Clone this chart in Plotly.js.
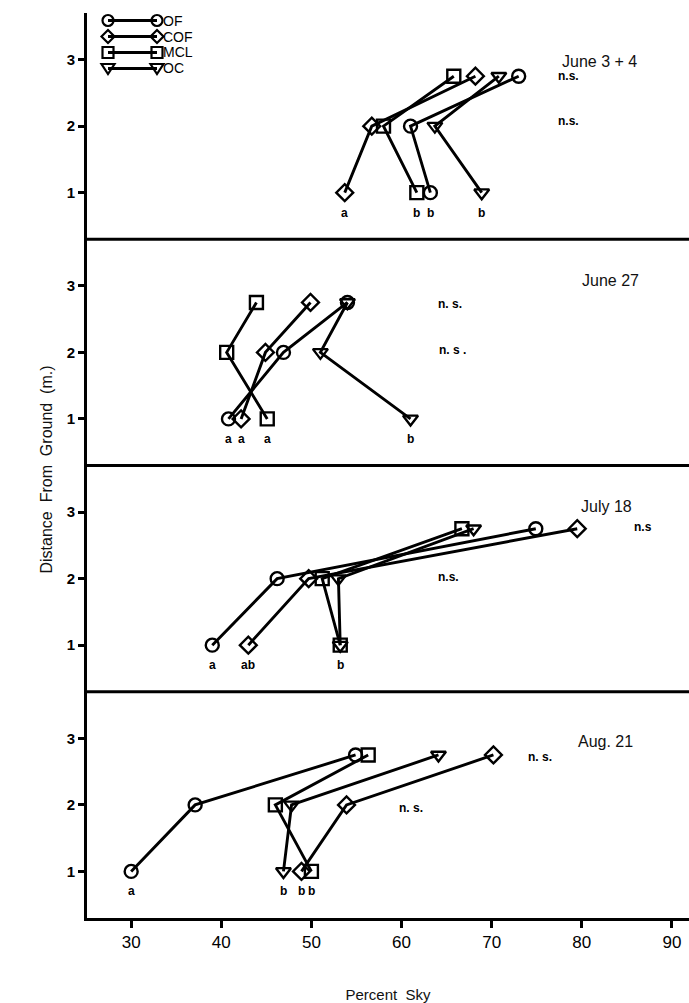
<!DOCTYPE html>
<html>
<head>
<meta charset="utf-8">
<script src="https://cdn.plot.ly/plotly-3.0.1.min.js"></script>
<style>html,body{margin:0;padding:0;background:#fff;}#chart{width:689px;height:1003px;}</style>
</head>
<body>
<div id="chart"></div>
<script>
// ---- data ----
const heights = [1, 2, 2.75];
const panelTitles = ["June 3 + 4", "June 27", "July 18", "Aug. 21"];
const seriesNames = ["OF", "COF", "MCL", "OC"];
// percent sky at heights 1, 2, 2.75 m, one row per panel
const OF  = [[63.2, 61.0, 73.0], [40.8, 46.9, 54.0], [39.0, 46.2, 74.9], [30.0, 37.1, 54.9]];
const COF = [[53.7, 56.7, 68.2], [42.2, 44.9, 49.9], [43.0, 49.7, 79.5], [48.9, 53.9, 70.2]];
const MCL = [[61.7, 58.0, 65.8], [45.1, 40.6, 43.9], [53.2, 51.2, 66.7], [50.0, 46.0, 56.3]];
const OC  = [[68.9, 63.7, 70.8], [61.0, 51.0, 54.0], [53.2, 53.0, 68.0], [46.9, 47.8, 64.1]];
// significance letters for the 1 m values, per panel
const OF_letters  = ["b", "a", "a", "a"];
const COF_letters = ["a", "a", "ab", "b"];
const MCL_letters = ["b", "a", "b", "b"];
const OC_letters  = ["b", "b", "", "b"];
// "n.s." notes per panel (upper, middle)
const nsText = [["n.s.", "n.s."], ["n. s.", "n. s ."], ["n.s", "n.s."], ["n. s.", "n. s."]];
const nsX = [[78.5, 78.5], [65.4, 65.7], [86.8, 65.2], [75.4, 61.0]];
const nsY = [[2.75, 2.07], [2.72, 2.03], [2.77, 2.03], [2.72, 1.95]];
const xTicks = [30, 40, 50, 60, 70, 80, 90];
const yTicks = [1, 2, 3];

// ---- build ----
const allSeries = [OF, COF, MCL, OC];
const allLetters = [OF_letters, COF_letters, MCL_letters, OC_letters];
const symbols = ["circle-open", "diamond-open", "square-open", "triangle-down-open"];
const FONT = "Liberation Sans, Arial, sans-serif";
const M = {l: 87, r: 0, t: 13, b: 85};
const W = 689, H = 1003;
const PW = W - M.l - M.r, PH = H - M.t - M.b;
const PX = px => (px - M.l) / PW;          // pixel -> paper (x)
const PY = py => (H - M.b - py) / PH;      // pixel -> paper (y)

const traces = [];
for (let p = 0; p < 4; p++) {
  const yname = p === 0 ? "y" : "y" + (p + 1);
  for (let s = 0; s < 4; s++) {
    traces.push({
      type: "scatter", mode: "lines+markers",
      x: allSeries[s][p], y: heights,
      xaxis: "x", yaxis: yname,
      name: seriesNames[s],
      showlegend: false,
      line: {color: "#000", width: 2.9},
      marker: {symbol: symbols[s], size: 13, color: "#000", line: {width: 2.4, color: "#000"}},
      hoverinfo: "skip"
    });
  }
}

const titleX = [82.0, 83.2, 82.7, 82.6];
const titleY = [2.97, 3.075, 3.09, 2.955];
const annotations = [];
const shapes = [];
for (let p = 0; p < 4; p++) {
  const yref = p === 0 ? "y" : "y" + (p + 1);
  annotations.push({xref: "x", yref: yref, x: titleX[p], y: titleY[p], text: panelTitles[p], showarrow: false,
    font: {family: FONT, size: 16, color: "#111"}});
  for (let s = 0; s < 4; s++) {
    const t = allLetters[s][p];
    if (t) annotations.push({xref: "x", yref: yref, x: allSeries[s][p][0], y: 0.7, text: "<b>" + t + "</b>", showarrow: false,
      font: {family: FONT, size: 12, color: "#000"}});
  }
  for (let k = 0; k < 2; k++) {
    annotations.push({xref: "x", yref: yref, x: nsX[p][k], y: nsY[p][k], text: "<b>" + nsText[p][k] + "</b>", showarrow: false,
      font: {family: FONT, size: 12, color: "#000"}});
  }
}
annotations.push({xref: "paper", yref: "paper", x: PX(35), y: PY(470), text: "Distance  From  Ground  (m.)", textangle: -90,
  showarrow: false, font: {family: FONT, size: 16, color: "#111"}});

// panel separators
[0.25, 0.5, 0.75].forEach(v => shapes.push({type: "line", xref: "paper", yref: "paper", x0: 0, x1: 1, y0: v, y1: v,
  line: {color: "#000", width: 3}}));

// legend key (markers at both ends of a line, as in the original)
const legRows = [20.5, 36.5, 52.5, 68.5];
const legX0 = 108, legX1 = 157, r = 5.5;
const ln = {color: "#000", width: 2.2};
function markerShape(kind, cx, cy) {
  if (kind === 0) return {type: "circle", xref: "paper", yref: "paper", x0: PX(cx - r), x1: PX(cx + r), y0: PY(cy + r), y1: PY(cy - r), line: ln};
  if (kind === 2) return {type: "rect", xref: "paper", yref: "paper", x0: PX(cx - r), x1: PX(cx + r), y0: PY(cy + r), y1: PY(cy - r), line: ln};
  let pts;
  if (kind === 1) pts = [[cx, cy - r - 1], [cx + r + 1, cy], [cx, cy + r + 1], [cx - r - 1, cy]];
  else pts = [[cx - r - 1, cy - r + 1], [cx + r + 1, cy - r + 1], [cx, cy + r]];
  const path = "M" + pts.map(q => PX(q[0]) + "," + PY(q[1])).join(" L") + " Z";
  return {type: "path", xref: "paper", yref: "paper", path: path, line: ln};
}
for (let s = 0; s < 4; s++) {
  const cy = legRows[s];
  shapes.push({type: "line", xref: "paper", yref: "paper", x0: PX(legX0), x1: PX(legX1), y0: PY(cy), y1: PY(cy),
    line: {color: "#000", width: 3}});
  shapes.push(markerShape(s, legX0, cy));
  shapes.push(markerShape(s, legX1, cy));
  annotations.push({xref: "paper", yref: "paper", x: PX(162), y: PY(cy), xanchor: "left", yanchor: "middle",
    text: seriesNames[s], showarrow: false, borderpad: 0, font: {family: FONT, size: 14, color: "#000"}});
}

function yAxis(domain) {
  return {domain: domain, range: [0.3, 3.7], tickvals: yTicks, ticktext: yTicks.map(String),
    ticks: "outside", ticklen: 6, tickwidth: 3, tickcolor: "#000",
    showline: true, linewidth: 3, linecolor: "#000", showgrid: false, zeroline: false,
    anchor: "x", fixedrange: true,
    tickfont: {family: FONT, size: 15, color: "#000", weight: "bold"}};
}

const layout = {
  width: W, height: H,
  margin: M,
  paper_bgcolor: "#fff", plot_bgcolor: "#fff",
  showlegend: false,
  xaxis: {range: [25.1, 91.9], tickvals: xTicks, ticks: "outside", ticklen: 7, tickwidth: 3, tickcolor: "#000",
    showline: true, linewidth: 3, linecolor: "#000", showgrid: false, zeroline: false, anchor: "y4",
    tickfont: {family: FONT, size: 17, color: "#000"},
    title: {text: "Percent  Sky", standoff: 40, font: {family: FONT, size: 15, color: "#111"}}},
  yaxis: yAxis([0.75, 1]),
  yaxis2: yAxis([0.5, 0.75]),
  yaxis3: yAxis([0.25, 0.5]),
  yaxis4: yAxis([0, 0.25]),
  annotations: annotations,
  shapes: shapes
};

Plotly.newPlot("chart", traces, layout, {displayModeBar: false, staticPlot: true});
</script>
</body>
</html>
